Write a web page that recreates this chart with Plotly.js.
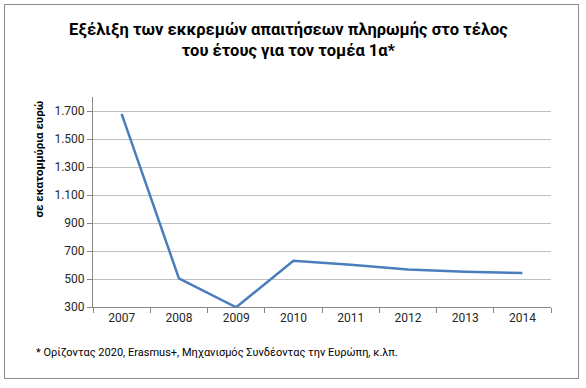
<!DOCTYPE html>
<html>
<head>
<meta charset="utf-8">
<script src="https://cdn.plot.ly/plotly-3.0.1.min.js"></script>
<style>
html,body{margin:0;padding:0;background:#fff;}
#wrap{position:relative;width:586px;height:388px;}
#chart{width:586px;height:388px;}
#frame{position:absolute;left:4px;top:4px;width:575px;height:375px;border:1.5px solid #8c8c8c;pointer-events:none;box-sizing:border-box;}
</style>
</head>
<body>
<div id="wrap"><div id="chart"></div><div id="frame"></div></div>
<script>
const years = ['2007','2008','2009','2010','2011','2012','2013','2014'];
const pending = [1680, 505, 298, 630, 602, 567, 551, 543];
const yTickVals = [300, 500, 700, 900, 1100, 1300, 1500, 1700];
const yTickText = ['300', '500', '700', '900', '1.100', '1.300', '1.500', '1.700'];
const titleText = 'Εξέλιξη των εκκρεμών απαιτήσεων πληρωμής στο τέλος<br>του έτους για τον τομέα 1α*';
const yTitleText = 'σε εκατομμύρια ευρώ';
const footnoteText = '* Ορίζοντας 2020, Erasmus+, Μηχανισμός Συνδέοντας την Ευρώπη, κ.λπ.';

const FONT = 'Roboto, "Noto Sans", sans-serif';
// plot area in pixels: x 93..551, y 97..307
const PX = v => (v - 93) / 458;
const PY = v => (307 - v) / 210;

const trace = {
  x: years,
  y: pending,
  type: 'scatter',
  mode: 'lines',
  line: {color: '#4a7ebb', width: 2.5},
  hoverinfo: 'x+y'
};

const layout = {
  width: 586, height: 388,
  margin: {l: 93, r: 35, t: 97, b: 81},
  paper_bgcolor: '#ffffff',
  plot_bgcolor: '#ffffff',
  showlegend: false,
  font: {family: FONT, size: 12, color: '#262626'},
  xaxis: {
    type: 'category',
    range: [-0.5, 7.5],
    showgrid: false,
    showline: true, linecolor: '#868686', linewidth: 1,
    ticks: 'outside', ticklen: 5, tickcolor: '#868686',
    tickson: 'boundaries',
    tickfont: {family: FONT, size: 12, color: '#262626'},
    fixedrange: true
  },
  yaxis: {
    range: [300, 1800],
    tickvals: yTickVals,
    ticktext: yTickText,
    showgrid: true, gridcolor: '#bfbfbf', gridwidth: 1,
    showline: true, linecolor: '#868686', linewidth: 1,
    ticks: 'outside', ticklen: 5, tickcolor: '#868686',
    zeroline: false,
    tickfont: {family: FONT, size: 12, color: '#262626'},
    fixedrange: true
  },
  annotations: [
    {
      text: '<b>' + titleText + '</b>',
      xref: 'paper', yref: 'paper',
      x: PX(288), y: PY(39.5),
      xanchor: 'center', yanchor: 'middle',
      align: 'center',
      showarrow: false,
      font: {family: FONT, size: 16.5, color: '#000000'}
    },
    {
      text: '<b>' + yTitleText + '</b>',
      textangle: -90,
      xref: 'paper', yref: 'paper',
      x: PX(38), y: PY(99),
      xanchor: 'center', yanchor: 'top',
      showarrow: false,
      font: {family: FONT, size: 11.5, color: '#000000'}
    },
    {
      text: footnoteText,
      xref: 'paper', yref: 'paper',
      x: PX(34), y: PY(352),
      xanchor: 'left', yanchor: 'middle',
      showarrow: false,
      font: {family: FONT, size: 11, color: '#000000'}
    }
  ]
};

Plotly.newPlot('chart', [trace], layout, {displayModeBar: false, staticPlot: true});
</script>
</body>
</html>
